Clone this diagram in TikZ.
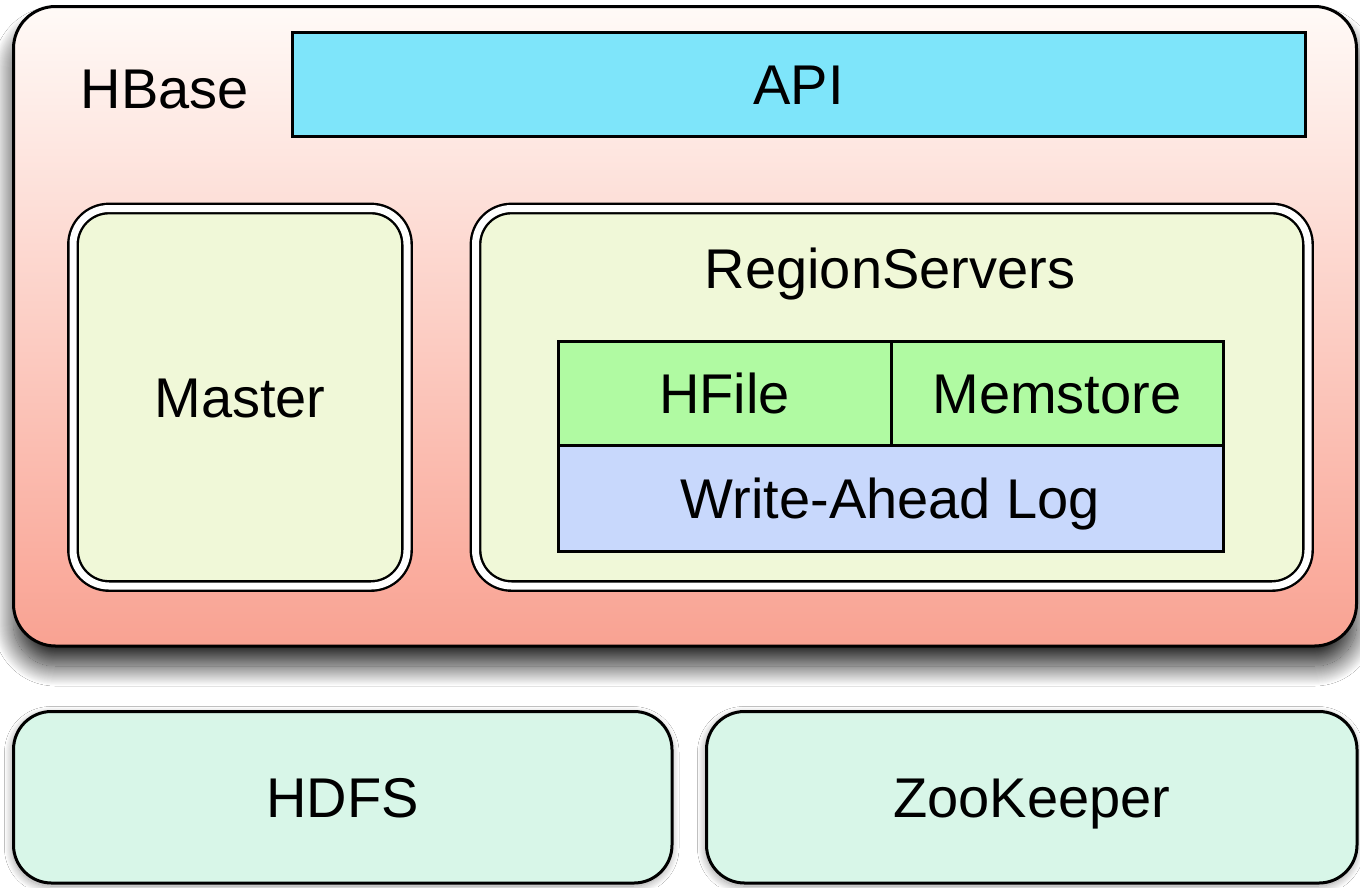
\documentclass[tikz,border=0pt]{standalone}
\usepackage{fontspec}
\setmainfont{Liberation Sans}
\usetikzlibrary{shadows.blur}
\definecolor{apiblue}{RGB}{126,229,250}
\definecolor{paleg}{RGB}{240,248,216}
\definecolor{hgreen}{RGB}{176,250,162}
\definecolor{walblue}{RGB}{200,216,252}
\definecolor{mint}{RGB}{216,246,232}
\definecolor{toppink}{RGB}{255,250,247}
\definecolor{botsalmon}{RGB}{249,162,146}
\begin{document}
\begin{tikzpicture}[x=1pt,y=-1pt,
  lbl/.style={font=\fontsize{56}{67}\selectfont, text=black, text height=40pt, text depth=0pt},
  plainbox/.style={rectangle, draw=black, line width=3pt, inner sep=0pt, lbl},
  dblbox/.style={rectangle, rounded corners=36pt, draw=black, line width=2.4pt, double=white, double distance=7pt, fill=paleg, inner sep=0pt, lbl},
  basebox/.style={rectangle, rounded corners=38pt, draw=black, line width=3pt, fill=mint, inner sep=0pt, lbl,
     blur shadow={shadow xshift=-1pt, shadow yshift=-3pt, shadow blur radius=8pt, shadow opacity=40, shadow blur steps=20}}
]
\useasboundingbox (0,0) rectangle (1360,887);
\fill[white] (0,0) rectangle (1360,887);

% HBase container
\node[rectangle, rounded corners=42pt, draw=black, line width=3pt, inner sep=0pt,
  top color=toppink, bottom color=botsalmon,
  blur shadow={shadow xshift=0pt, shadow yshift=-20pt, shadow blur radius=20pt, shadow opacity=85, shadow blur steps=40},
  minimum width=1343pt, minimum height=639.5pt] (hbase) at (685,326.25) {};
\node[lbl] (hbaselabel) at (165,88) {HBase};

% API
\node[plainbox, fill=apiblue, minimum width=1012.5pt, minimum height=103.5pt] (api) at (798.75,84.25) {API};

% Master and RegionServers
\node[dblbox, minimum width=334pt, minimum height=377.5pt] (master) at (240,397.25) {Master};
\node[dblbox, minimum width=832.5pt, minimum height=377.5pt] (rs) at (891.75,397.25) {};
\node[lbl] (rslabel) at (890,268) {RegionServers};

% Storage table
\node[plainbox, fill=hgreen, minimum width=333pt, minimum height=104pt] (hfile) at (724.5,393) {HFile};
\node[plainbox, fill=hgreen, minimum width=332pt, minimum height=104pt] (memstore) at (1057,393) {Memstore};
\node[plainbox, fill=walblue, minimum width=665pt, minimum height=106pt] (wal) at (890.5,498) {Write-Ahead Log};

% Bottom boxes
\node[basebox, minimum width=658.5pt, minimum height=171.5pt] (hdfs) at (342.75,797.25) {HDFS};
\node[basebox, minimum width=650.5pt, minimum height=171.5pt] (zk) at (1031.75,797.25) {ZooKeeper};
\end{tikzpicture}
\end{document}
